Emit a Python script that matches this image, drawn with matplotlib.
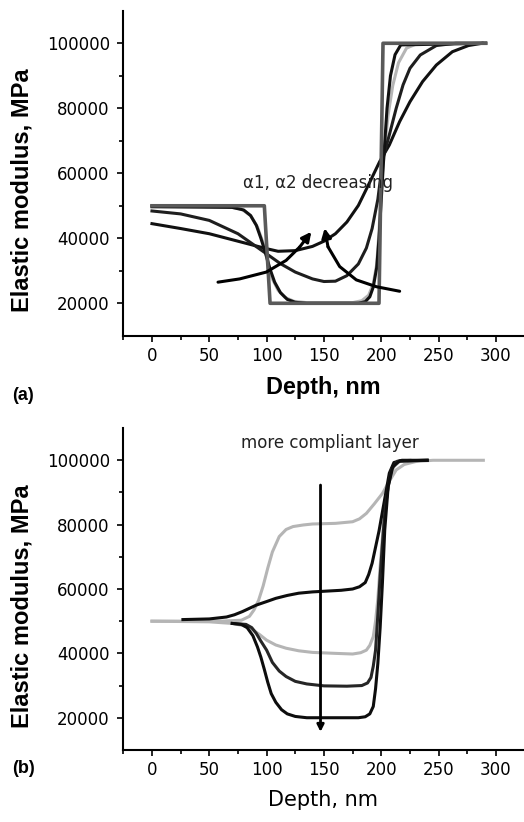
import matplotlib
matplotlib.use("Agg")
import matplotlib.pyplot as plt
from matplotlib.ticker import MultipleLocator

plt.rcParams['font.family'] = ['DejaVu Sans']

# ---------------- panel (a) data ----------------
a_step_x = [0, 98, 103, 198, 201.5, 291]
a_step_y = [50000, 50000, 20000, 20000, 100000, 100000]

a_gray_x = [0, 65, 78, 86, 92, 97, 101, 105, 110, 116, 124, 135, 175, 183, 189, 193,
            196, 198, 200, 203, 206, 210, 215, 222, 232, 291]
a_gray_y = [50000, 49800, 49000, 47000, 43500, 38500, 32500, 27500, 24000, 21800, 20600,
            20200, 20200, 20800, 22500, 26000, 32000, 42000, 56000, 68000, 78000, 87000,
            94000, 98500, 100000, 100000]

a_sharp_x = [0, 70, 80, 86, 91, 95, 99, 103, 107, 112, 118, 125, 135, 180, 186, 190, 193,
             196, 198, 200, 202, 205, 208, 212, 217, 291]
a_sharp_y = [49700, 49500, 48700, 47000, 44000, 40000, 35500, 30500, 26500, 23300, 21200,
             20300, 20000, 20000, 20500, 22000, 25000, 31000, 40000, 52000, 64000, 80000,
             90000, 96500, 99500, 100000]

a_mid_x = [0, 25, 50, 75, 100, 112, 125, 140, 150, 160, 170, 180, 187, 192, 197, 201.5,
           207, 213, 219, 225, 234, 248, 265, 291]
a_mid_y = [48400, 47500, 45500, 41400, 35200, 32200, 29600, 27500, 26700, 26800, 28500,
           32100, 37000, 43000, 52000, 64600, 71800, 80000, 87200, 92300, 96400, 99300,
           100000, 100000]

a_flat_x = [0, 25, 50, 75, 100, 110, 125, 140, 150, 160, 170, 180, 190, 198.6, 207, 216,
            225, 236, 248, 262, 276, 288]
a_flat_y = [44500, 43000, 41400, 39100, 36800, 36000, 36200, 37500, 39100, 41400, 45000,
            50100, 57300, 63600, 68700, 75900, 82000, 88200, 93300, 97400, 99300, 100000]

# curved arrows
arr1_x = [57.6, 76.5, 99.7, 117, 128.8, 139]
arr1_y = [26500, 27500, 29600, 33200, 37300, 42000]
arr2_x = [216, 195.7, 178.2, 163.7, 153.5, 150.6]
arr2_y = [23700, 25100, 27200, 31300, 37400, 43100]

# ---------------- panel (b) data ----------------
b_hi_x = [0, 60, 78, 85, 89, 93, 97, 101, 105, 111, 117, 123, 132, 140, 160, 175, 181, 187,
          194, 201, 207, 213, 220, 230, 245, 289]
b_hi_y = [50000, 50000, 50300, 51500, 53500, 56500, 61000, 66500, 71500, 76300, 78500,
          79400, 79900, 80200, 80400, 80900, 81800, 83500, 86500, 89700, 93500, 97000,
          98700, 99600, 100000, 100000]

b_lo_x = [0, 50, 70, 80, 88, 94, 100, 108, 117, 128, 140, 160, 175, 182, 187, 190, 193, 195,
          197, 199, 201.5, 204, 207, 211, 216, 225]
b_lo_y = [50000, 49800, 49300, 48600, 47300, 45800, 44100, 42600, 41600, 40800, 40300,
          40000, 39800, 40200, 41000, 42500, 45200, 50000, 57000, 67000, 78300, 87000,
          93900, 98000, 99700, 100000]

b_60_x = [27, 50, 65, 72, 79, 85, 91, 100, 108, 118, 128, 140, 150, 165, 175, 181, 186, 189,
          192, 195, 198, 201, 204, 207, 211, 218, 240]
b_60_y = [50500, 50700, 51300, 52000, 53000, 54000, 55000, 56100, 57100, 58000, 58700,
          59100, 59300, 59600, 60000, 60700, 62000, 64500, 68000, 73000, 78000, 84000,
          90000, 96000, 99300, 100000, 100000]

b_30_x = [70, 82, 87, 91, 95, 100, 105, 111, 117, 125, 135, 150, 170, 183, 188, 191, 193,
          195, 197, 199, 201, 203, 206, 209, 214, 240]
b_30_y = [49300, 49000, 48000, 46200, 43800, 41000, 37200, 34500, 32800, 31300, 30500,
          29900, 29800, 30000, 30800, 32500, 36000, 41000, 52000, 64000, 74000, 83500,
          92000, 97300, 99700, 100000]

b_20_x = [70, 78, 83, 88, 92, 95, 98, 101, 104, 108, 113, 118, 125, 135, 180, 186, 190, 193,
          195, 197, 199, 201, 203, 206, 210, 216, 240]
b_20_y = [49300, 49000, 48000, 45500, 42000, 38800, 35000, 31000, 27500, 24800, 22500,
          21200, 20400, 20000, 20000, 20300, 21200, 23500, 29000, 36900, 48000, 62000,
          78300, 91800, 98000, 99800, 100000]

vline_x = 147
vline_y = [92300, 15600]

LIGHT = '#b5b5b5'
STEP = '#5a5a5a'


def style_axes(ax):
    ax.set_xlim(-25, 324)
    ax.set_ylim(10000, 110000)
    ax.spines['top'].set_visible(False)
    ax.spines['right'].set_visible(False)
    ax.spines['left'].set_linewidth(1.5)
    ax.spines['bottom'].set_linewidth(1.5)
    ax.xaxis.set_major_locator(MultipleLocator(50))
    ax.xaxis.set_minor_locator(MultipleLocator(25))
    ax.set_yticks([20000, 40000, 60000, 80000, 100000])
    ax.set_yticks([30000, 50000, 70000, 90000], minor=True)
    ax.set_xticks([0, 50, 100, 150, 200, 250, 300])
    ax.tick_params(which='major', length=4.2, width=1.2, labelsize=12, direction='out')
    ax.tick_params(which='minor', length=3, width=1.2, direction='out')
    ax.tick_params(axis='y', pad=5.5)
    ax.tick_params(axis='x', pad=4)
    ax.set_ylabel('Elastic modulus, MPa', family='Liberation Sans',
                  fontweight='bold', fontsize=17)


fig = plt.figure(figsize=(5.24, 8.22), dpi=100)

# ---------------- (a) ----------------
ax1 = fig.add_axes([0.2353, 0.5915, 0.7637, 0.3954])
style_axes(ax1)
ax1.plot(a_gray_x, a_gray_y, color=LIGHT, lw=2.2)
ax1.plot(a_flat_x, a_flat_y, color='#111111', lw=2.2)
ax1.plot(a_mid_x, a_mid_y, color='#1e1e1e', lw=2.2)
ax1.plot(a_sharp_x, a_sharp_y, color='#111111', lw=2.2)
ax1.plot(a_step_x, a_step_y, color=STEP, lw=2.6)

for xs, ys in [(arr1_x, arr1_y), (arr2_x, arr2_y)]:
    ax1.plot(xs[:-1], ys[:-1], color='black', lw=2.2, solid_capstyle='round')
    ax1.annotate('', xy=(xs[-1], ys[-1]), xytext=(xs[-2], ys[-2]),
                 arrowprops=dict(arrowstyle='-|>', color='black', lw=2.2,
                                 mutation_scale=14, shrinkA=0, shrinkB=0))

ax1.text(79, 57000, 'α1, α2 decreasing', fontsize=12, va='center', ha='left',
         color='#222222')
ax1.set_xlabel('Depth, nm', family='Liberation Sans', fontweight='bold', fontsize=16.8)
ax1.xaxis.set_label_coords(0.5, -0.125)
ax1.yaxis.set_label_coords(-0.225, 0.449)

# ---------------- (b) ----------------
ax2 = fig.add_axes([0.2353, 0.0877, 0.7637, 0.3915])
style_axes(ax2)
ax2.plot(b_hi_x, b_hi_y, color=LIGHT, lw=2.2)
ax2.plot(b_lo_x, b_lo_y, color=LIGHT, lw=2.2)
ax2.plot(b_60_x, b_60_y, color='#0d0d0d', lw=2.2)
ax2.plot(b_30_x, b_30_y, color='#262626', lw=2.2)
ax2.plot(b_20_x, b_20_y, color='#0d0d0d', lw=2.2)
ax2.annotate('', xy=(vline_x, vline_y[1]), xytext=(vline_x, vline_y[0]),
             arrowprops=dict(arrowstyle='-|>', color='black', lw=2.0,
                             mutation_scale=10, shrinkA=0, shrinkB=0))
ax2.text(77.6, 105500, 'more compliant layer', fontsize=12, va='center', ha='left',
         color='#222222')
ax2.set_xlabel('Depth, nm', fontsize=15)
ax2.xaxis.set_label_coords(0.5, -0.125)
ax2.yaxis.set_label_coords(-0.225, 0.447)

fig.text(12 / 524, 1 - 395 / 822, '(a)', family='Liberation Sans', fontweight='bold',
         fontsize=13, va='center', ha='left')
fig.text(12 / 524, 1 - 768 / 822, '(b)', family='Liberation Sans', fontweight='bold',
         fontsize=13, va='center', ha='left')

fig.savefig('out.png', dpi=100)
